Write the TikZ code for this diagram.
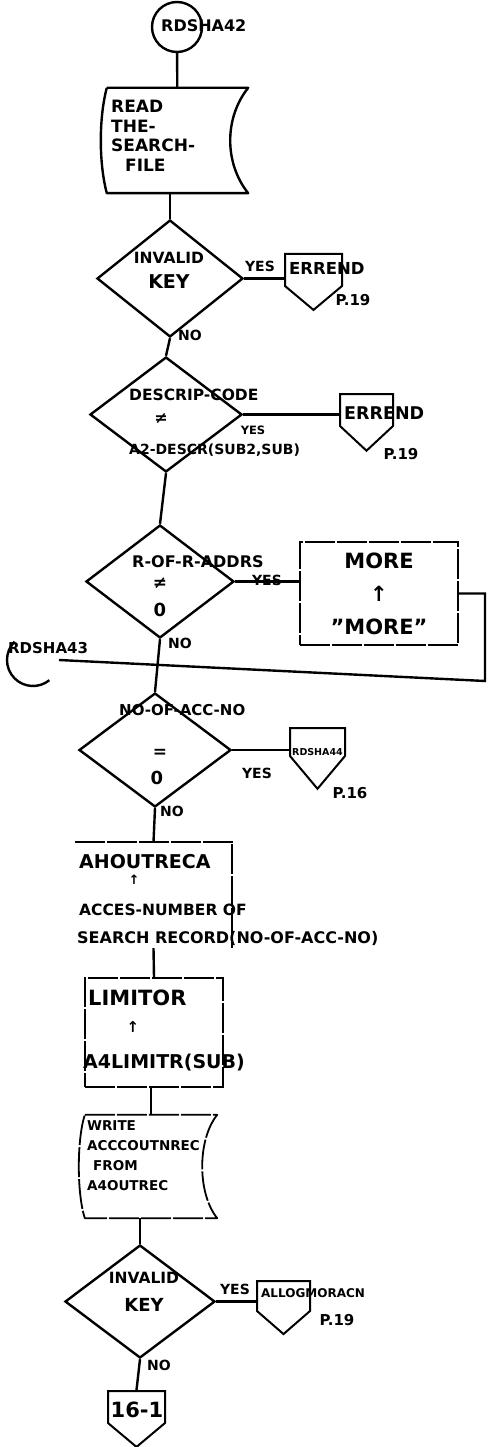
\documentclass[tikz,border=0pt]{standalone}
\usepackage{fontspec}
\setmainfont{DejaVu Sans}
\usetikzlibrary{shapes.geometric, shapes.symbols, calc}
\tikzset{
  flow/.style={line width=2.4pt},
  procline/.style={line width=1.8pt, dash pattern=on 30pt off 2pt},
  decision/.style={diamond, draw, line width=2.4pt, inner sep=0pt},
  procbox/.style={rectangle, draw, procline, inner sep=0pt},
  offpage/.style={signal, signal to=south, signal from=nowhere, draw, line width=2pt, inner sep=0pt, signal pointer angle=100},
  hand/.style={inner sep=0pt, font=\bfseries\fontsize{#1}{#1}\selectfont},
  hand/.default=15
}

\begin{document}
\begin{tikzpicture}[x=1pt, y=-1pt]
\fill[white] (0,0) rectangle (487,1447);
\useasboundingbox (0,0) rectangle (487,1447);

\node[circle, draw, flow, minimum size=50pt, inner sep=0pt] (c42) at (177,27) {};
\node[hand=16, anchor=west] (c42t) at (161,26) {RDSHA42};
\node[minimum width=141pt, minimum height=105pt, inner sep=0pt] (rd) at (177.5,140.5) {};
\draw[flow, line join=round] (rd.north west) -- (rd.north east)
  .. controls +(-24,30) and +(-24,-30) .. (rd.south east) -- (rd.south west)
  .. controls +(-8,-30) and +(-8,30) .. (rd.north west);
\node[anchor=north west, align=left, inner sep=0pt, font=\bfseries\fontsize{17}{19.5}\selectfont] (rdt) at (111,100) {READ\\THE-\\SEARCH-\\\hspace*{14pt}FILE};

\node[decision, minimum width=146pt, minimum height=117pt] (d1) at (170,278.5) {};
\node[align=center, inner sep=0pt, font=\bfseries\fontsize{15.5}{25}\selectfont] (d1t) at (169,270) {INVALID\\\fontsize{19}{25}\selectfont KEY};
\node[offpage, minimum width=57pt, minimum height=32pt, anchor=north] (e1) at (313.5,253) {};
\node[hand=16.5, anchor=west] (e1t) at (289,268) {ERREND};
\node[hand=15] (e1p) at (353,300) {P.19};
\node[hand=14] (y1) at (260,266) {YES};
\node[hand=14] (n1) at (190,335) {NO};

\node[decision, minimum width=152pt, minimum height=115pt] (d2) at (166,414.5) {};
\node[hand=15.5, anchor=west] (d2a) at (129,395) {DESCRIP-CODE};
\node[hand=16] (d2b) at (161,418) {≠};
\node[hand=14, anchor=west] (d2c) at (129,450) {A2-DESCR(SUB2,SUB)};
\node[hand=11.5] (y2) at (253,430) {YES};
\node[offpage, minimum width=53pt, minimum height=32pt, anchor=north, signal pointer angle=94] (e2) at (366.5,393) {};
\node[hand=17.5, anchor=west] (e2t) at (344,413) {ERREND};
\node[hand=15] (e2p) at (401,454) {P.19};

\node[decision, minimum width=148pt, minimum height=113pt] (d3) at (160,581.5) {};
\node[hand=16, anchor=west] (d3a) at (132,562) {R-OF-R-ADDRS};
\node[hand=17] (d3b) at (160,583) {≠};
\node[hand=18] (d3c) at (160,610) {0};
\node[hand=14] (y3) at (267,580) {YES};
\node[hand=14] (n3) at (180,643) {NO};
\node[procbox, minimum width=158pt, minimum height=103pt, align=center, font=\bfseries\fontsize{21}{33}\selectfont] (more) at (379,593.5) {MORE\\↑\\"MORE"};

\node[circle, minimum size=52pt, inner sep=0pt, outer sep=0pt] (c43) at (33,660) {};
\draw[flow] (c43.135) arc[start angle=135, end angle=309, radius=26pt];
\node[hand=15, anchor=west] (c43t) at (8,648) {RDSHA43};
\coordinate (ret) at (485,681);

\node[decision, minimum width=152pt, minimum height=114pt] (d4) at (155,750) {};
\node[hand=15, anchor=west] (d4a) at (119,710) {NO-OF-ACC-NO};
\node[hand=17] (d4b) at (160,753) {=};
\node[hand=18] (d4c) at (157,778) {0};
\node[hand=14] (y4) at (257,773) {YES};
\node[offpage, minimum width=55pt, minimum height=28pt, anchor=north, signal pointer angle=80] (e3) at (317.5,727) {};
\node[hand=9.5, anchor=west] (e3t) at (292,752) {RDSHA44};
\node[hand=15] (e3p) at (350,793) {P.16};
\node[hand=14] (n4) at (172,811) {NO};

\node[minimum width=157pt, minimum height=106pt, inner sep=0pt] (ahout) at (153.5,895) {};
\draw[procline] (ahout.north west) -- (ahout.north east) -- (ahout.south east);
\node[hand=19, anchor=west] (a1) at (79,862) {AHOUTRECA};
\node[hand=13] (a2) at (134,880) {↑};
\node[hand=15.5, anchor=west] (a3) at (79,910) {ACCES-NUMBER OF};
\node[hand=16, anchor=west] (a4) at (77,938) {SEARCH RECORD(NO-OF-ACC-NO)};

\node[procbox, minimum width=138pt, minimum height=109pt] (limit) at (154,1032.5) {};
\node[hand=21, anchor=west] (l1) at (88,998) {LIMITOR};
\node[hand=15] (l2) at (133,1027) {↑};
\node[hand=19, anchor=west] (l3) at (83,1063) {A4LIMITR(SUB)};

\node[minimum width=132pt, minimum height=103pt, inner sep=0pt] (wr) at (151,1166.5) {};
\draw[procline, line join=round] (wr.north west) -- (wr.north east)
  .. controls +(-20,25) and +(-20,-25) .. (wr.south east) -- (wr.south west)
  .. controls +(-8,-25) and +(-8,25) .. (wr.north west);
\node[anchor=north west, align=left, inner sep=0pt, font=\bfseries\fontsize{13.5}{20.3}\selectfont] (wrt) at (87,1120) {WRITE\\ACCCOUTNREC\\\hspace*{6pt}FROM\\A4OUTREC};

\node[decision, minimum width=150pt, minimum height=113pt] (d5) at (140,1301.5) {};
\node[align=center, inner sep=0pt, font=\bfseries\fontsize{15.5}{28}\selectfont] (d5t) at (144,1292) {INVALID\\\fontsize{18}{28}\selectfont KEY};
\node[hand=14] (y5) at (235,1289) {YES};
\node[offpage, minimum width=53pt, minimum height=30pt, anchor=north, signal pointer angle=98] (e4) at (283.5,1280) {};
\node[hand=12, anchor=west] (e4t) at (261,1293) {ALLOGMORACN};
\node[hand=15] (e4p) at (337,1320) {P.19};
\node[hand=14] (n5) at (159,1365) {NO};
\node[offpage, minimum width=57pt, minimum height=32pt, anchor=north] (e5) at (136.5,1390) {};
\node[hand=21] (e5t) at (137,1410) {16-1};

\draw[flow] (c42) -- (rd);
\draw[flow] (rd.south -| d1.north) -- (d1.north);
\draw[flow] (d1.east) -- (d1.east -| e1.west);
\draw[flow] (d1.south) -- (d2.north);
\draw[flow] (d2.east) -- (d2.east -| e2.west);
\draw[flow] (d2.south) -- (d3.north);
\draw[flow] (d3.east) -- (d3.east -| more.west);
\draw[flow] (more.east) -| (ret) -- (c43.east);
\draw[flow] (d3.south) -- (d4.north);
\draw[flow] (d4.east) -- (d4.east -| e3.west);
\draw[flow] (d4.south) -- (ahout.north);
\draw[flow] (ahout.south) -- (limit.north);
\draw[flow] (wr.north |- limit.south) -- (wr.north);
\draw[flow] (d5.north |- wr.south) -- (d5.north);
\draw[flow] (d5.east) -- (d5.east -| e4.west);
\draw[flow] (d5.south) -- (e5.north);
\end{tikzpicture}
\end{document}
